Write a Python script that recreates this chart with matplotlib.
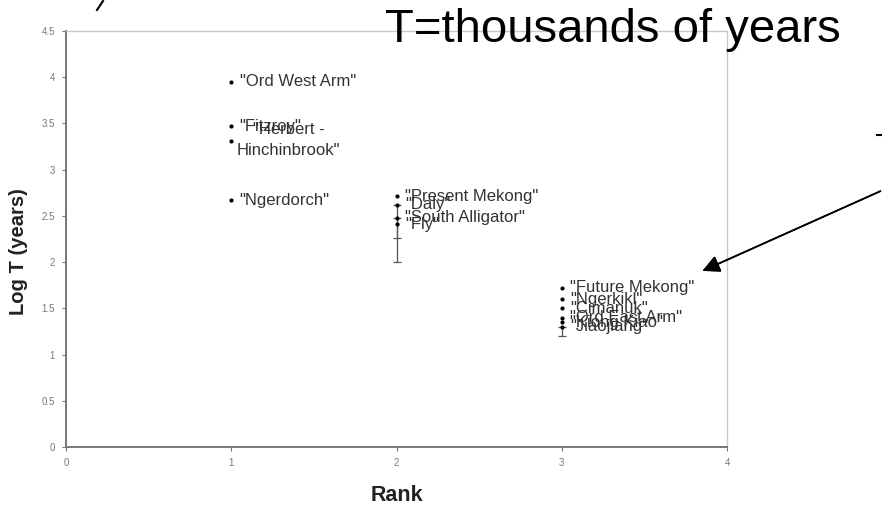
import matplotlib.pyplot as plt
from matplotlib.lines import Line2D

plt.rcParams['font.family'] = ['Liberation Sans', 'DejaVu Sans']

# river systems, grouped by rank
names = ['"Ord West Arm"', '"Fitzroy"', '"Herbert -\nHinchinbrook"', '"Ngerdorch"',
         '"Present Mekong"', '"Daly"', '"South Alligator"', '"Fly"',
         '"Future Mekong"', '"Ngerkikl"', '"Cimanuk"', '"Ord East Arm"',
         '"Kiong Kiao"', '"Jiaojiang"']
rank = [1, 1, 1, 1, 2, 2, 2, 2, 3, 3, 3, 3, 3, 3]
log_t = [3.95, 3.47, 3.31, 2.67, 2.71, 2.62, 2.48, 2.41,
         1.72, 1.60, 1.50, 1.40, 1.35, 1.30]

# error bars (lower, upper) on a few of the estimates
err_idx = [6, 7, 13]
err_low = [0.22, 0.41, 0.10]
err_up = [0.0, 0.21, 0.0]

fig = plt.figure(figsize=(8.82, 5.08), dpi=100)
ax = fig.add_axes([0.0748, 0.1201, 0.7495, 0.8189])

ax.errorbar([rank[i] for i in err_idx], [log_t[i] for i in err_idx],
            yerr=[err_low, err_up], fmt='none', ecolor='#555555',
            elinewidth=0.9, capsize=3, capthick=0.9)
ax.scatter(rank, log_t, s=4, color='black', zorder=3)

for x, y, name in zip(rank, log_t, names):
    if '\n' in name:
        # two-line label hangs below its point, lines centred
        ax.annotate(name, (x, y), xytext=(4, 14), textcoords='offset points',
                    fontsize=12, color='#333333', va='top', ha='left',
                    multialignment='center', linespacing=1.55)
    else:
        ax.annotate(name, (x, y), xytext=(6, 0), textcoords='offset points',
                    fontsize=12, color='#333333', va='center', ha='left')

ax.set_xlim(0, 4)
ax.set_ylim(0, 4.5)
ax.set_xticks([0, 1, 2, 3, 4])
ax.set_yticks([0, 0.5, 1, 1.5, 2, 2.5, 3, 3.5, 4, 4.5])
ax.set_yticklabels(['0', '0.5', '1', '1.5', '2', '2.5', '3', '3.5', '4', '4.5'])
ax.tick_params(labelsize=7, colors='#777777', length=3, width=0.8, pad=5)

for side in ['top', 'right']:
    ax.spines[side].set_color('#c8c8c8')
    ax.spines[side].set_linewidth(1.0)
for side in ['left', 'bottom']:
    ax.spines[side].set_color('#777777')
    ax.spines[side].set_linewidth(1.4)

ax.set_xlabel('Rank', fontsize=15.5, fontweight='bold', color='#222222', labelpad=12)
ax.set_ylabel('Log T (years)', fontsize=14.5, fontweight='bold', color='#222222')
ax.yaxis.set_label_coords(-0.058, 0.47)

fig.text(0.437, 0.941, 'T=thousands of years', fontsize=34, color='black',
         ha='left', va='center')

# arrow pointing at the rank-3 group
fig.add_artist(plt.annotate('', xy=(700 / 882, 1 - 272 / 508), xycoords='figure fraction',
                            xytext=(883 / 882, 1 - 190 / 508), textcoords='figure fraction',
                            arrowprops=dict(arrowstyle='-|>', color='black', lw=1.2,
                                            mutation_scale=26)))

# leftover strokes at the edges
fig.add_artist(Line2D([877 / 882, 882 / 882], [1 - 135 / 508, 1 - 135 / 508],
                      color='black', lw=1.5))
fig.add_artist(Line2D([97 / 882, 103 / 882], [1 - 10 / 508, 1 - 1 / 508],
                      color='black', lw=1.5))

fig.savefig('out.png', dpi=100)
